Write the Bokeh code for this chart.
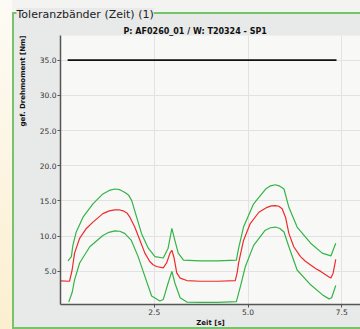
from bokeh.plotting import figure
from bokeh.models import Range1d, FixedTicker, NumeralTickFormatter, Title, InlineStyleSheet
from bokeh.embed import file_html
from bokeh.resources import INLINE

# ---- data ----
limit_x = [0.19, 7.36]
limit_y = [35.0, 35.0]

red_x = [0.0, 0.24, 0.31, 0.375, 0.51, 0.69, 0.865, 1.13, 1.3, 1.45, 1.56, 1.67, 1.77, 1.85,
         1.98, 2.12, 2.25, 2.38, 2.47, 2.56, 2.74, 2.83, 2.92, 2.97, 3.03, 3.10, 3.19, 3.37,
         3.72, 4.2, 4.66, 4.71, 4.75, 4.88, 5.06, 5.29, 5.51, 5.62, 5.73, 5.82, 5.91, 6.00,
         6.09, 6.22, 6.40, 6.53, 6.67, 6.80, 6.94, 7.16, 7.21, 7.27, 7.34]
red_y = [3.65, 3.6, 5.2, 7.6, 9.7, 11.1, 12.0, 13.2, 13.6, 13.75, 13.75, 13.6, 13.3, 12.7,
         11.3, 9.4, 7.6, 6.4, 5.95, 5.7, 5.5, 6.2, 7.6, 8.0, 6.9, 4.8, 4.05, 3.7,
         3.6, 3.6, 3.7, 4.8, 6.2, 9.4, 11.8, 13.4, 14.1, 14.3, 14.35, 14.25, 13.9, 12.7,
         10.4, 8.5, 7.1, 6.45, 5.9, 5.4, 5.0, 4.2, 4.05, 4.75, 6.7]

up_x = [0.2, 0.29, 0.33, 0.42, 0.60, 0.865, 1.13, 1.3, 1.45, 1.58, 1.72, 1.82, 1.90, 2.03,
        2.16, 2.34, 2.52, 2.74, 2.87, 2.97, 3.05, 3.14, 3.28, 3.72, 4.2, 4.69, 4.75, 4.88,
        5.15, 5.47, 5.6, 5.73, 5.85, 5.96, 6.09, 6.31, 6.67, 6.98, 7.21, 7.34]
up_y = [6.5, 7.1, 8.7, 10.6, 12.7, 14.6, 16.0, 16.5, 16.7, 16.6, 16.2, 15.8, 15.05, 12.7,
        10.4, 8.3, 7.1, 6.9, 8.3, 11.1, 9.4, 7.6, 6.6, 6.5, 6.5, 6.6, 8.3, 11.3,
        14.6, 16.7, 17.15, 17.3, 17.1, 16.7, 14.1, 11.3, 9.0, 7.6, 7.2, 9.0]

lo_x = [0.22, 0.31, 0.375, 0.51, 0.78, 1.13, 1.29, 1.45, 1.58, 1.71, 1.89, 2.07, 2.25, 2.43,
        2.65, 2.74, 2.87, 2.97, 3.05, 3.19, 3.37, 3.72, 4.2, 4.69, 4.80, 4.93, 5.15, 5.46,
        5.6, 5.73, 5.85, 5.96, 6.09, 6.31, 6.67, 6.98, 7.16, 7.23, 7.34]
lo_y = [0.65, 2.0, 3.8, 6.2, 8.5, 10.1, 10.55, 10.75, 10.7, 10.4, 9.4, 7.1, 4.3, 1.5,
        0.8, 1.0, 3.35, 5.0, 3.35, 1.25, 0.65, 0.6, 0.6, 0.7, 2.9, 5.7, 8.7, 10.85,
        11.2, 11.3, 11.1, 10.6, 8.5, 5.2, 3.1, 1.7, 1.1, 1.25, 3.0]

x_ticks = [2.5, 5.0, 7.5]
y_ticks = [5, 10, 15, 20, 25, 30, 35]

frame_title = "Toleranzbänder (Zeit) (1)"
plot_title = "P: AF0260_01 / W: T20324 - SP1"
x_label = "Zeit [s]"
y_label = "gef. Drehmoment [Nm]"

FONT = "DejaVu Sans"
GRAY = "#e8e9e9"
GREEN_FRAME = "#76c46a"

frame_css = f"""
:host {{
  position: relative;
  z-index: 0;
  background: linear-gradient(to right, transparent 12px, #f3f3f1 12px),
              linear-gradient(to bottom, #fdfbf5, #fcefd0);
}}
:host::before {{
  content: "";
  position: absolute;
  left: 12px; top: 12px; right: 0; bottom: 0;
  box-sizing: border-box;
  background: {GRAY};
  border-left: 2px solid {GREEN_FRAME};
  border-top: 2px solid {GREEN_FRAME};
  border-bottom: 2px solid {GREEN_FRAME};
  z-index: -1;
  pointer-events: none;
}}
"""

p = figure(width=360, height=329, output_backend="svg", toolbar_location=None,
           x_range=Range1d(0, 8.0), y_range=Range1d(0.3, 38.5),
           min_border_left=60, min_border_right=0, min_border_top=35, min_border_bottom=22)
p.stylesheets = [InlineStyleSheet(css=frame_css)]
p.border_fill_color = None
p.background_fill_color = "#f8f8f7"
p.outline_line_color = None

# outer (group) title
p.title.text = frame_title
p.title.text_font = FONT
p.title.text_font_size = "11px"
p.title.text_font_style = "normal"
p.title.text_color = "#222222"
p.title.align = "left"
p.title.offset = -44
p.title.standoff = 7
p.title.background_fill_color = GRAY

# chart title (closest to the frame)
p.add_layout(Title(text=plot_title, text_font=FONT, text_font_size="8px",
                   text_font_style="bold", text_color="#111111", align="left",
                   offset=63, standoff=0), "above")
p.add_layout(Title(text=y_label, text_font=FONT, text_font_size="7px",
                   text_font_style="bold", text_color="#111111", align="right",
                   standoff=19), "left")

for ax in (p.xaxis[0], p.yaxis[0]):
    ax.axis_line_color = "#555555"
    ax.axis_line_width = 1.5
    ax.major_tick_line_color = "#555555"
    ax.major_tick_in = 0
    ax.major_tick_out = 3
    ax.minor_tick_line_color = None
    ax.major_label_text_font = FONT
    ax.major_label_text_font_size = "7.5px"
    ax.major_label_text_color = "#333333"
    ax.major_label_standoff = 1
    ax.formatter = NumeralTickFormatter(format="0.0")

p.xaxis.ticker = FixedTicker(ticks=x_ticks)
p.yaxis.ticker = FixedTicker(ticks=y_ticks)
p.xaxis.axis_label = x_label
p.xaxis.axis_label_text_font = FONT
p.xaxis.axis_label_text_font_size = "7px"
p.xaxis.axis_label_text_font_style = "bold"
p.xaxis.axis_label_text_color = "#111111"
p.xaxis.axis_label_standoff = 1

p.grid.grid_line_color = "#e2e2e2"
p.grid.grid_line_width = 1

p.line(limit_x, limit_y, line_color="#111111", line_width=1.6)
p.line(up_x, up_y, line_color="#33b446", line_width=1.2)
p.line(lo_x, lo_y, line_color="#33b446", line_width=1.2)
p.line(red_x, red_y, line_color="#ee2b2b", line_width=1.2)

open("out.html", "w").write(file_html(p, INLINE))
